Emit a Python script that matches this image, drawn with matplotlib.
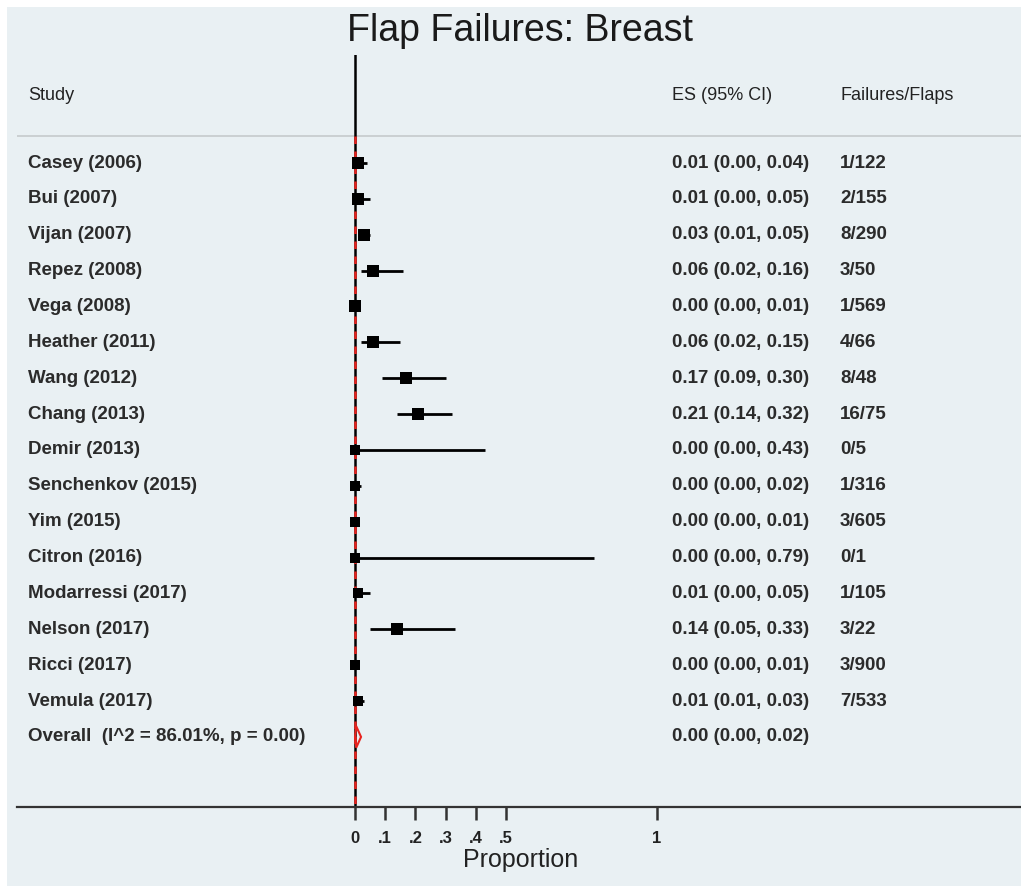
import matplotlib.pyplot as plt
from matplotlib.patches import Rectangle, Polygon

# study rows (top to bottom)
studies = ['Casey (2006)', 'Bui (2007)', 'Vijan (2007)', 'Repez (2008)', 'Vega (2008)',
           'Heather (2011)', 'Wang (2012)', 'Chang (2013)', 'Demir (2013)',
           'Senchenkov (2015)', 'Yim (2015)', 'Citron (2016)', 'Modarressi (2017)',
           'Nelson (2017)', 'Ricci (2017)', 'Vemula (2017)']
es = [0.01, 0.01, 0.03, 0.06, 0.00, 0.06, 0.17, 0.21, 0.00, 0.00, 0.00, 0.00, 0.01, 0.14, 0.00, 0.01]
lo = [0.00, 0.00, 0.01, 0.02, 0.00, 0.02, 0.09, 0.14, 0.00, 0.00, 0.00, 0.00, 0.00, 0.05, 0.00, 0.01]
hi = [0.04, 0.05, 0.05, 0.16, 0.01, 0.15, 0.30, 0.32, 0.43, 0.02, 0.01, 0.79, 0.05, 0.33, 0.01, 0.03]
counts = ['1/122', '2/155', '8/290', '3/50', '1/569', '4/66', '8/48', '16/75', '0/5',
          '1/316', '3/605', '0/1', '1/105', '3/22', '3/900', '7/533']
# marker sizes (roughly weight-based)
msize = [8, 8, 9, 8, 8, 8, 8, 8, 7, 7, 7, 7, 7, 8, 7, 7]

overall_label = 'Overall  (I^2 = 86.01%, p = 0.00)'
overall = (0.00, 0.00, 0.02)  # es, lo, hi

xticks = [0, .1, .2, .3, .4, .5, 1]
xticklabels = ['0', '.1', '.2', '.3', '.4', '.5', '1']

W, H = 1021, 886
bg = '#e9f0f3'

fig = plt.figure(figsize=(W / 100, H / 100), dpi=100)
fig.patch.set_facecolor('white')
fig.patches.append(Rectangle((7 / W, -0.1), 1, 1.1 - 7 / H, transform=fig.transFigure,
                             facecolor=bg, edgecolor='none', zorder=-5))

# axes: x pixel 17..1021, y pixel 55..807
ax = fig.add_axes([17 / W, (H - 807) / H, (W - 17) / W, (807 - 55) / H])
ax.patch.set_alpha(0)
px_per = 302.0
ax.set_xlim((17 - 355) / px_per, (W - 355) / px_per)
row0, rowh = 163, 35.87
ax.set_ylim((807 - row0) / rowh, (55 - row0) / rowh)

for s in ['left', 'right', 'top']:
    ax.spines[s].set_visible(False)
ax.spines['bottom'].set_linewidth(1.6)
ax.spines['bottom'].set_color('#333333')
ax.set_yticks([])
ax.set_xticks(xticks)
ax.set_xticklabels(xticklabels, fontsize=12, fontweight='bold', color='#222222',
                   family='Liberation Sans')
ax.tick_params(axis='x', direction='out', length=9, width=1.8, color='#333333', pad=8)

ax.axvline(0, color='black', lw=1.8, zorder=2)
ax.axhline(-0.75, color='#c6cacc', lw=1.2, zorder=1)
ax.plot([overall[0], overall[0]], [-0.75, (807 - row0) / rowh], color='#e8231e',
        lw=1.8, ls=(0, (3, 3)), zorder=3)

rows = list(range(len(studies)))
txt = dict(fontsize=13.5, fontweight='bold', color='#2b2b2b', family='Liberation Sans',
           va='center')
x_study = (28 - 355) / px_per
x_es = (672 - 355) / px_per
x_n = (840 - 355) / px_per

for i in rows:
    ax.plot([lo[i], hi[i]], [i, i], color='black', lw=2, zorder=4, solid_capstyle='butt')
    ax.plot(es[i], i, 's', color='black', ms=msize[i], mew=0, zorder=5)
    ax.text(x_study, i, studies[i], **txt)
    ax.text(x_es, i, f'{es[i]:.2f} ({lo[i]:.2f}, {hi[i]:.2f})', **txt)
    ax.text(x_n, i, counts[i], **txt)

yo = len(studies)
ax.add_patch(Polygon([(overall[1], yo), (overall[0] + 0.004, yo - 0.3),
                      (overall[2], yo), (overall[0] + 0.004, yo + 0.3)],
                     closed=True, facecolor='none', edgecolor='#e8231e', lw=1.5, zorder=6))
ax.text(x_study, yo, overall_label, **txt)
ax.text(x_es, yo, f'{overall[0]:.2f} ({overall[1]:.2f}, {overall[2]:.2f})', **txt)

hdr = dict(fontsize=13, color='#222222', family='Liberation Sans', va='center')
yh = (95 - row0) / rowh
ax.text(x_study, yh, 'Study', **hdr)
ax.text(x_es, yh, 'ES (95% CI)', **hdr)
ax.text(x_n, yh, 'Failures/Flaps', **hdr)

fig.text(520 / W, 1 - 31 / H, 'Flap Failures: Breast', fontsize=27, color='#1a1a1a',
         family='Liberation Sans', ha='center', va='center')
fig.text(521 / W, 1 - 860 / H, 'Proportion', fontsize=18, color='#222222',
         family='Liberation Sans', ha='center', va='center')

fig.savefig('out.png', dpi=100, facecolor=fig.get_facecolor())
